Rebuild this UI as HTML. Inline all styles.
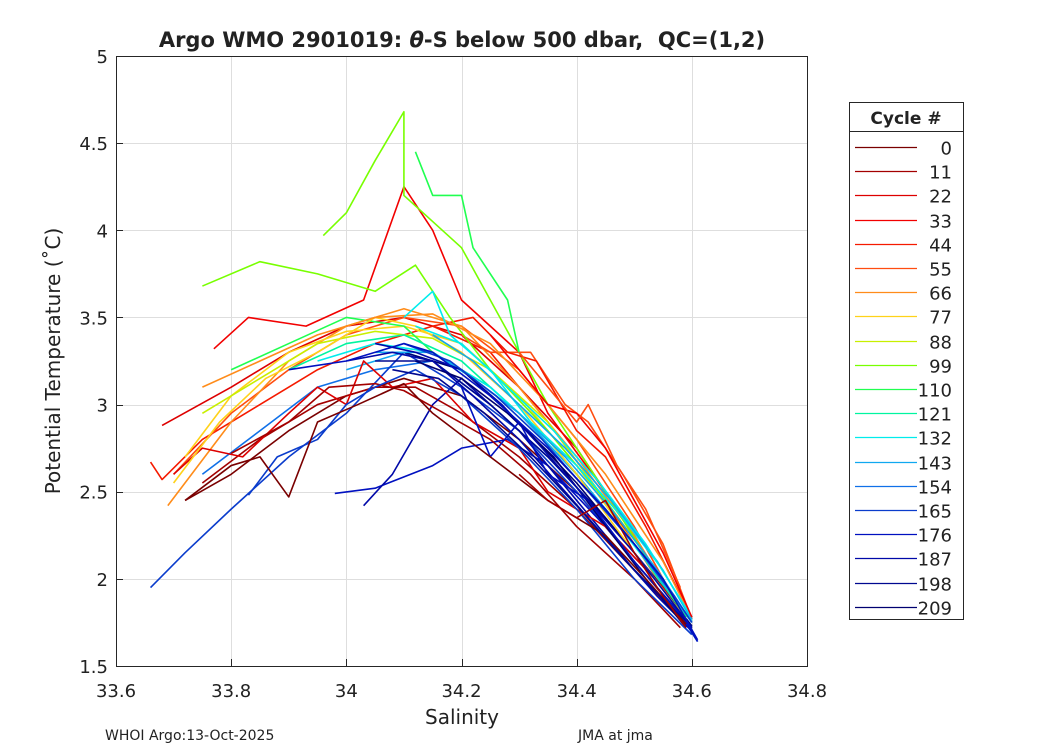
<!DOCTYPE html>
<html><head><meta charset="utf-8"><style>
body{margin:0;background:#fff}
svg text{font-family:"DejaVu Sans","Liberation Sans",sans-serif;fill:#222}
</style></head><body>
<svg id="chart" width="1050" height="750" xmlns="http://www.w3.org/2000/svg">
<rect width="1050" height="750" fill="#fff"/>
<text x="462" y="47" text-anchor="middle" font-size="21" font-weight="bold" xml:space="preserve">Argo WMO 2901019: <tspan font-style="italic">θ</tspan>-S below 500 dbar,  QC=(1,2)</text>
<rect x="116" y="56" width="691" height="610" fill="#fff" stroke="none"/>
<g id="grid"></g>
<g id="series"></g>
<rect x="116.5" y="56.5" width="691" height="610" fill="none" stroke="#262626" stroke-width="1"/>
<g id="ticks"></g>
<text x="462" y="724" text-anchor="middle" font-size="20">Salinity</text>
<text transform="translate(60,361) rotate(-90)" text-anchor="middle" font-size="20">Potential Temperature (˚C)</text>
<text x="105" y="740" font-size="14">WHOI Argo:13-Oct-2025</text>
<text x="578" y="740" font-size="14">JMA at jma</text>
<g id="legend">
<rect x="849.5" y="102.5" width="114" height="517" fill="#fff" stroke="#262626"/>
<line x1="849" y1="131.5" x2="964" y2="131.5" stroke="#262626"/>
<text x="906" y="124" text-anchor="middle" font-size="17" font-weight="bold">Cycle #</text>
</g>
</svg>
<script>
const xTicks=[33.6,33.8,34,34.2,34.4,34.6,34.8];
const yTicks=[1.5,2,2.5,3,3.5,4,4.5,5];
const cycles=[0,11,22,33,44,55,66,77,88,99,110,121,132,143,154,165,176,187,198,209];
const colors=["#7a0000","#a30000","#dd0000","#f20000","#f51a00","#ff4d10","#ff8c1a","#ffd21a","#c8f000","#78ff00","#20ff50","#00f5a0","#00ecec","#10a8f0","#1070e8","#0a3ccc","#0010c0","#0008a8","#000890","#000070"];
// color index (into cycles) for each drawn profile
const profColor=[0,1,2,3,4,5,6,7,8,9,10,11,12,13,14,15,16,17,18,19,2,1,5,4,9,10,7,6,12,13,17,19,15,16,0,17,18,15,13,12,3,5,1,16];
const sal=[
[33.72,33.8,33.9,34.0,34.1,34.2,34.3,34.4,34.5,34.59],
[33.75,33.85,33.95,34.05,34.12,34.2,34.3,34.4,34.5,34.59],
[33.68,33.8,33.9,34.0,34.1,34.2,34.3,34.4,34.5,34.59],
[33.77,33.83,33.93,34.03,34.1,34.15,34.2,34.3,34.35,34.45,34.59],
[33.66,33.68,33.75,33.85,33.95,34.05,34.15,34.25,34.35,34.45,34.59],
[33.7,33.8,33.9,34.0,34.1,34.2,34.3,34.4,34.5,34.59],
[33.69,33.8,33.9,34.0,34.1,34.2,34.3,34.4,34.5,34.59],
[33.72,33.8,33.9,34.0,34.1,34.2,34.3,34.4,34.5,34.59],
[33.75,33.85,33.95,34.05,34.15,34.25,34.35,34.45,34.55,34.59],
[33.96,34.0,34.05,34.1,34.1,34.2,34.25,34.3,34.35,34.45,34.59],
[33.8,33.9,34.0,34.1,34.15,34.25,34.35,34.45,34.55,34.59],
[33.9,34.0,34.1,34.2,34.3,34.4,34.5,34.59],
[33.95,34.05,34.15,34.25,34.35,34.45,34.55,34.6],
[34.0,34.1,34.2,34.3,34.4,34.5,34.6],
[33.75,33.85,33.95,34.05,34.15,34.25,34.35,34.45,34.55,34.61],
[33.66,33.72,33.8,33.9,34.0,34.1,34.2,34.3,34.4,34.5,34.6],
[33.98,34.05,34.15,34.2,34.28,34.35,34.45,34.55,34.6],
[34.03,34.08,34.15,34.2,34.3,34.4,34.5,34.6],
[34.05,34.15,34.25,34.35,34.45,34.55,34.6],
[34.1,34.2,34.3,34.4,34.5,34.6],
[33.7,33.75,33.82,33.9,33.95,34.0,34.03,34.08,34.15,34.22,34.3,34.35,34.45,34.55,34.59],
[33.8,33.9,33.97,34.05,34.1,34.17,34.25,34.32,34.4,34.5,34.58],
[34.2,34.25,34.32,34.38,34.42,34.48,34.55,34.6],
[34.15,34.22,34.28,34.33,34.4,34.45,34.52,34.6],
[33.75,33.85,33.95,34.05,34.12,34.18,34.25,34.35,34.45,34.55,34.59],
[34.12,34.15,34.2,34.22,34.28,34.3],
[33.7,33.78,33.86,33.95,34.05,34.12,34.2,34.3,34.4,34.5,34.59],
[33.75,33.85,33.95,34.05,34.15,34.25,34.35,34.45,34.55,34.6],
[34.1,34.15,34.18,34.25,34.32,34.4,34.48,34.55,34.6],
[34.05,34.15,34.22,34.3,34.38,34.46,34.54,34.6],
[34.0,34.08,34.15,34.22,34.3,34.38,34.46,34.54,34.6],
[34.12,34.2,34.28,34.36,34.44,34.52,34.59],
[33.83,33.88,33.95,34.0,34.05,34.12,34.2,34.3,34.4,34.5,34.6],
[34.2,34.25,34.3,34.35,34.42,34.5,34.58,34.61],
[33.72,33.8,33.85,33.9,33.95,34.02,34.1,34.15,34.25,34.35,34.45,34.52,34.59],
[34.05,34.12,34.2,34.27,34.34,34.42,34.5,34.57,34.6],
[34.08,34.16,34.24,34.32,34.4,34.48,34.56,34.6],
[34.1,34.18,34.26,34.34,34.42,34.5,34.57,34.6],
[34.15,34.22,34.3,34.38,34.46,34.54,34.6],
[34.12,34.2,34.28,34.36,34.44,34.52,34.6],
[34.25,34.3,34.35,34.4,34.45,34.5,34.55,34.6],
[34.3,34.35,34.4,34.42,34.47,34.52,34.58],
[34.3,34.35,34.4,34.45,34.5,34.55,34.59],
[33.9,34.0,34.1,34.15,34.25,34.35,34.45,34.55,34.61]
];
const temp=[
[2.45,2.6,2.85,3.05,3.15,3.05,2.8,2.5,2.1,1.75],
[2.55,2.8,3.0,3.1,3.1,2.95,2.7,2.4,2.05,1.74],
[2.88,3.1,3.3,3.45,3.5,3.4,3.1,2.75,2.25,1.76],
[3.32,3.5,3.45,3.6,4.25,4.0,3.6,3.3,2.95,2.5,1.76],
[2.67,2.57,2.8,3.0,3.2,3.35,3.45,3.3,2.9,2.45,1.75],
[2.6,2.95,3.2,3.4,3.5,3.45,3.2,2.8,2.3,1.76],
[2.42,2.9,3.25,3.45,3.55,3.45,3.1,2.7,2.25,1.76],
[2.7,3.05,3.3,3.42,3.45,3.35,3.05,2.65,2.2,1.76],
[2.95,3.15,3.35,3.42,3.38,3.2,2.9,2.45,2.0,1.78],
[3.97,4.1,4.4,4.68,4.2,3.9,3.6,3.3,3.0,2.5,1.76],
[3.2,3.35,3.5,3.45,3.3,3.1,2.8,2.4,2.0,1.78],
[3.2,3.35,3.4,3.25,2.95,2.6,2.2,1.77],
[3.25,3.35,3.3,3.1,2.8,2.4,1.98,1.75],
[3.2,3.3,3.2,2.95,2.6,2.2,1.75],
[2.6,2.85,3.1,3.2,3.25,3.0,2.7,2.35,1.95,1.64],
[1.95,2.15,2.4,2.7,2.95,3.3,3.1,2.85,2.5,2.1,1.72],
[2.49,2.52,2.65,2.75,2.8,2.65,2.3,1.95,1.7],
[2.42,2.6,3.0,3.15,2.85,2.45,2.05,1.72],
[3.25,3.25,3.0,2.7,2.35,1.95,1.72],
[3.3,3.2,2.9,2.55,2.15,1.73],
[2.6,2.75,2.7,2.95,3.1,3.0,3.25,3.1,3.15,2.9,2.75,2.5,2.3,1.95,1.75],
[2.72,2.9,3.1,3.12,3.08,2.95,2.8,2.6,2.3,2.0,1.72],
[3.4,3.3,3.3,3.0,2.9,2.6,2.2,1.77],
[3.45,3.5,3.3,3.25,2.85,2.7,2.3,1.78],
[3.68,3.82,3.75,3.65,3.8,3.5,3.2,2.85,2.45,2.0,1.76],
[4.45,4.2,4.2,3.9,3.6,3.3],
[2.55,2.9,3.15,3.3,3.5,3.45,3.3,3.0,2.6,2.15,1.77],
[3.1,3.25,3.4,3.5,3.52,3.35,3.0,2.6,2.1,1.77],
[3.5,3.65,3.4,3.2,2.9,2.65,2.35,2.05,1.76],
[3.3,3.3,3.15,2.95,2.7,2.4,2.05,1.75],
[3.25,3.3,3.25,3.05,2.8,2.5,2.2,1.9,1.7],
[3.25,3.15,2.95,2.7,2.35,2.0,1.72],
[2.48,2.7,2.8,3.0,3.1,3.2,3.05,2.75,2.4,2.0,1.68],
[3.1,2.7,2.9,2.6,2.45,2.1,1.8,1.64],
[2.45,2.65,2.7,2.47,2.9,3.0,3.12,2.95,2.7,2.45,2.25,2.0,1.74],
[3.35,3.3,3.2,3.0,2.75,2.45,2.15,1.85,1.72],
[3.2,3.15,2.95,2.7,2.42,2.12,1.85,1.73],
[3.35,3.25,3.05,2.8,2.5,2.2,1.9,1.75],
[3.4,3.25,3.0,2.75,2.45,2.1,1.77],
[3.45,3.35,3.1,2.85,2.55,2.2,1.78],
[3.4,3.2,3.0,2.95,2.75,2.45,2.15,1.78],
[3.3,3.1,2.9,3.0,2.65,2.4,1.95],
[2.6,2.45,2.35,2.45,2.15,1.9,1.72],
[3.2,3.25,3.35,3.3,3.05,2.75,2.4,2.0,1.65]
];
const NS="http://www.w3.org/2000/svg";
const X=s=>116+(s-33.6)/1.2*691;
const Y=t=>666-(t-1.5)/3.5*610;
function mk(tag,attrs,parent){const e=document.createElementNS(NS,tag);for(const k in attrs)e.setAttribute(k,attrs[k]);parent.appendChild(e);return e;}
const grid=document.getElementById('grid'),ticks=document.getElementById('ticks'),series=document.getElementById('series'),legend=document.getElementById('legend');
xTicks.forEach(v=>{
 const px=Math.round(X(v))+0.5;
 const g=mk('line',{x1:px,x2:px,y1:56,y2:666,stroke:'#dedede'},grid);
 
 
 mk('line',{x1:px,x2:px,y1:666,y2:659,stroke:'#262626'},ticks);
 const t=mk('text',{x:X(v),y:697,'text-anchor':'middle','font-size':18},ticks);
 
 
 t.textContent=String(v);
});
yTicks.forEach(v=>{
 const py=Math.round(Y(v))+0.5;
 const g=mk('line',{x1:116,x2:807,y1:py,y2:py,stroke:'#dedede'},grid);
 
 
 mk('line',{x1:116,x2:123,y1:py,y2:py,stroke:'#262626'},ticks);
 const t=mk('text',{x:108,y:Y(v)+7,'text-anchor':'end','font-size':18},ticks);
 
 
 t.textContent=String(v);
});
sal.forEach((arr,i)=>{
 const ci=profColor[i];
 const pts=arr.map((s,j)=>X(s)+','+Y(temp[i][j])).join(' ');
 const p=mk('polyline',{points:pts,fill:'none',stroke:colors[ci],'stroke-width':1.6,'stroke-linejoin':'round'},series);
 
 
});
cycles.forEach((c,i)=>{
 const y=Math.round(147+i*24.2)+0.5;
 const l=mk('line',{x1:855,x2:917,y1:y,y2:y,stroke:colors[i],'stroke-width':1.2},legend);
 
 
 const t=mk('text',{x:952,y:y+7,'text-anchor':'end','font-size':18},legend);
 
 
 t.textContent=String(c);
});
</script>
</body></html>
